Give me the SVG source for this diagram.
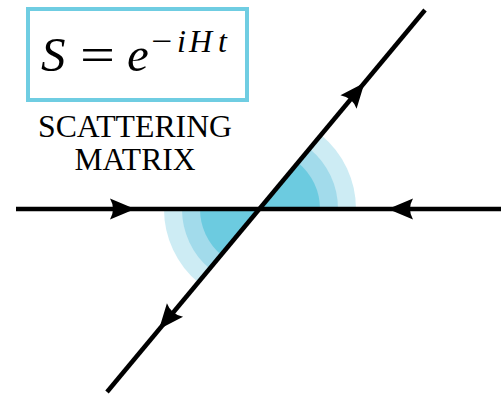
<svg xmlns="http://www.w3.org/2000/svg" width="501" height="395" viewBox="0 0 501 395">
<style>
.ln{stroke:#000;stroke-width:4.5;fill:none}
.w1{fill:#cdecf4}
.w2{fill:#a2dbeb}
.w3{fill:#6ccbe0}
.serif{font-family:"Liberation Serif","Times New Roman",serif;fill:#000}
.it{font-style:italic}
</style>
<defs>
<path id="ah" d="M0,0 L-25,-10.5 Q-19,0 -25,10.5 Z" fill="#000"/>
</defs>
<g id="angles">
<path class="w1" d="M260,209 L356,209 A96,96 0 0,0 321.4,135.2 Z"/>
<path class="w2" d="M260,209 L338,209 A78,78 0 0,0 309.9,149 Z"/>
<path class="w3" d="M260,209 L320,209 A60,60 0 0,0 298.4,162.9 Z"/>
<path class="w1" d="M260,209 L164,209 A96,96 0 0,0 198.6,282.8 Z"/>
<path class="w2" d="M260,209 L182,209 A78,78 0 0,0 210.1,269 Z"/>
<path class="w3" d="M260,209 L200,209 A60,60 0 0,0 221.6,255.1 Z"/>
</g>
<g id="connectors">
<line class="ln" x1="16" y1="209" x2="501" y2="209"/>
<line class="ln" x1="425" y1="10" x2="107" y2="392"/>
<use href="#ah" transform="translate(135,209)"/>
<use href="#ah" transform="translate(388,209) rotate(180)"/>
<use href="#ah" transform="translate(364.5,82.7) rotate(-50.2)"/>
<use href="#ah" transform="translate(159,329.3) rotate(129.8)"/>
</g>
<g id="formula-box">
<rect x="28" y="9" width="219" height="91" fill="#fff" stroke="#6fcde2" stroke-width="4"/>
<text class="serif it" x="41" y="71" font-size="49">S</text>
<text class="serif" x="80" y="71" font-size="49" textLength="35" lengthAdjust="spacingAndGlyphs">=</text>
<text class="serif it" x="127" y="71" font-size="49">e</text>
<text class="serif" x="151" y="52" font-size="32" textLength="21" lengthAdjust="spacingAndGlyphs">−</text>
<text class="serif it" x="177" y="52" font-size="32"><tspan x="177">i</tspan><tspan x="189">H</tspan><tspan x="218">t</tspan></text>
</g>
<g id="label">
<text class="serif" x="135" y="137" font-size="31" text-anchor="middle" textLength="194" lengthAdjust="spacingAndGlyphs">SCATTERING</text>
<text class="serif" x="135" y="170" font-size="31" text-anchor="middle" textLength="121" lengthAdjust="spacingAndGlyphs">MATRIX</text>
</g>
</svg>
